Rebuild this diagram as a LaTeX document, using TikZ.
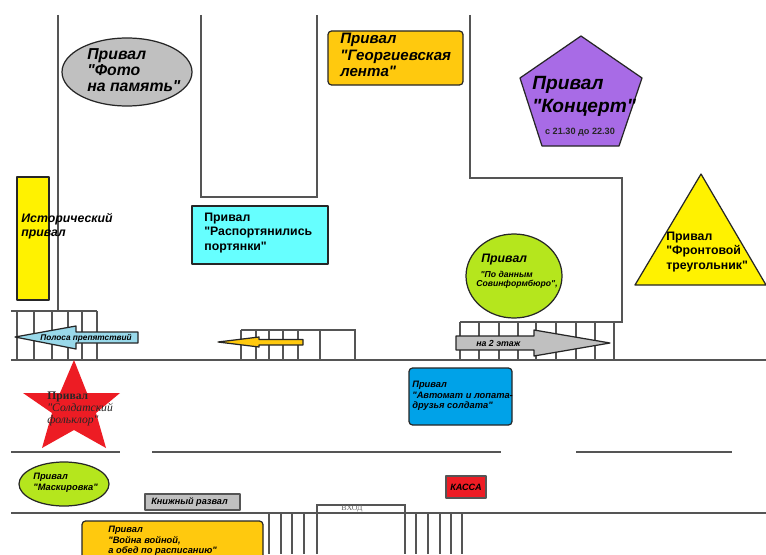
\documentclass[tikz,border=0pt]{standalone}
\usepackage{fontspec}
\setmainfont{Liberation Sans}[Ligatures=TeXOff]
\newfontfamily\serifrm{Liberation Serif}[Ligatures=TeXOff]
\definecolor{wallgray}{HTML}{555555}
\definecolor{boxgray}{HTML}{C0C0C0}
\definecolor{boxorange}{HTML}{FFC90E}
\definecolor{boxgreen}{HTML}{B5E61D}
\definecolor{boxyellow}{HTML}{FFF200}
\definecolor{boxcyan}{HTML}{66FFFF}
\definecolor{boxblue}{HTML}{00A2E8}
\definecolor{boxred}{HTML}{ED1C24}
\definecolor{boxpurple}{HTML}{A86BE6}
\definecolor{boxsky}{HTML}{99D9EA}
\tikzset{
  wall/.style={draw=wallgray,line width=0.8pt},
  outline/.style={draw=black!85,line width=0.7pt,line join=round},
  rbox/.style={outline,rounded corners=2pt},
  txt/.style={anchor=west,align=left,inner sep=0pt,font=\bfseries\itshape\color{black!85}},
}
\begin{document}
\begin{tikzpicture}[x=0.02cm,y=-0.02cm]
\clip (0,0) rectangle (766,554);
\fill[white] (0,0) rectangle (766,554);
\draw[wall] (58,15) -- (58,311);
\draw[wall] (201,15) -- (201,197) -- (317,197) -- (317,15);
\draw[wall] (470,15) -- (470,178) -- (622,178) -- (622,322) -- (460,322);
\draw[wall] (11,360) -- (766,360);
\draw[wall] (11,452) -- (120,452);
\draw[wall] (152,452) -- (501,452);
\draw[wall] (576,452) -- (732,452);
\draw[wall] (11,513) -- (766,513);
\draw[wall] (11,311) -- (97,311);
\draw[wall] (17,311) -- (17,360);
\draw[wall] (34,311) -- (34,360);
\draw[wall] (52,311) -- (52,360);
\draw[wall] (68,311) -- (68,360);
\draw[wall] (82,311) -- (82,360);
\draw[wall] (97,311) -- (97,360);
\draw[wall] (241,330) -- (355,330) -- (355,360);
\draw[wall] (241,330) -- (241,360);
\draw[wall] (256,330) -- (256,360);
\draw[wall] (269,330) -- (269,360);
\draw[wall] (283,330) -- (283,360);
\draw[wall] (298,330) -- (298,360);
\draw[wall] (320,330) -- (320,360);
\draw[wall] (460,322) -- (460,360);
\draw[wall] (479,322) -- (479,360);
\draw[wall] (499,322) -- (499,360);
\draw[wall] (518,322) -- (518,360);
\draw[wall] (536,322) -- (536,360);
\draw[wall] (556,322) -- (556,360);
\draw[wall] (576,322) -- (576,360);
\draw[wall] (595,322) -- (595,360);
\draw[wall] (614,322) -- (614,360);
\draw[wall] (317,554) -- (317,505) -- (405,505) -- (405,554);
\draw[wall] (269,513) -- (269,554);
\draw[wall] (281,513) -- (281,554);
\draw[wall] (292,513) -- (292,554);
\draw[wall] (304,513) -- (304,554);
\draw[wall] (416,513) -- (416,554);
\draw[wall] (428,513) -- (428,554);
\draw[wall] (440,513) -- (440,554);
\draw[wall] (451,513) -- (451,554);
\draw[wall] (462,513) -- (462,554);
\node[anchor=center,inner sep=0pt,font=\serifrm\fontsize{4.5}{5}\selectfont,text=black!60] (vhod) at (352,509) {ВХОД};

\filldraw[outline,fill=boxgray] (127,72) ellipse (65 and 34);
\node[txt,font=\bfseries\itshape\fontsize{9}{9.2}\selectfont] (foto) at (87,70) {Привал\\"Фото\\на память"};

\filldraw[rbox,fill=boxorange] (328,31) rectangle (463,85);
\node[txt,font=\bfseries\itshape\fontsize{8.6}{9.5}\selectfont] (lenta) at (340,55) {Привал\\"Георгиевская\\лента"};

\filldraw[outline,fill=boxpurple] (581,36) -- (642,78) -- (619,146) -- (542,146) -- (520,78) -- cycle;
\node[txt,font=\bfseries\itshape\fontsize{10.9}{13}\selectfont] (koncert) at (532,96) {Привал\\"Концерт"};
\node[anchor=center,inner sep=0pt,font=\bfseries\fontsize{5.2}{5.5}\selectfont,text=black!85] (vremya) at (580,132) {с 21.30 до 22.30};

\filldraw[outline,fill=boxyellow] (17,177) rectangle (49,300);
\node[txt,font=\bfseries\itshape\fontsize{7}{8}\selectfont] (istor) at (21,226) {Исторический\\привал};

\filldraw[outline,line width=0.9pt,fill=boxcyan] (192,206) rectangle (328,264);
\node[txt,font=\bfseries\fontsize{7}{8.4}\selectfont] (portyanki) at (204,233) {Привал\\"Распортянились\\портянки"};

\filldraw[outline,fill=boxyellow] (701,174) -- (766,285) -- (635,285) -- cycle;
\node[txt,font=\bfseries\fontsize{7}{8.3}\selectfont] (treug) at (666,252) {Привал\\"Фронтовой\\треугольник"};

\filldraw[outline,fill=boxgreen] (514,276) ellipse (48 and 42);
\node[txt,font=\bfseries\itshape\fontsize{7}{8}\selectfont] (privalsov) at (481,260) {Привал};
\node[txt,font=\bfseries\itshape\fontsize{4.9}{5.3}\selectfont] (sovinform) at (476,280) {\,\,\,"По данным\\Совинформбюро",};

\filldraw[outline,fill=boxsky] (15,337) -- (76,326) -- (76,332) -- (138,332) -- (138,343) -- (76,343) -- (76,349) -- cycle;
\node[txt,font=\bfseries\itshape\fontsize{4.7}{6}\selectfont] (polosa) at (40,338) {Полоса препятствий};

\filldraw[outline,fill=boxorange] (218,342) -- (259,337) -- (259,339.5) -- (303,339.5) -- (303,345) -- (259,345) -- (259,347) -- cycle;

\filldraw[outline,fill=boxgray] (456,336) -- (534,336) -- (534,330) -- (610,343) -- (534,356) -- (534,350) -- (456,350) -- cycle;
\node[txt,font=\bfseries\itshape\fontsize{5}{6}\selectfont] (etazh) at (476,343) {на 2 этаж};

\fill[boxred] (74,360) -- (87,393) -- (120,393) -- (96,413) -- (106,448) -- (74,430) -- (42,448) -- (52,413) -- (23,393) -- (60,393) -- cycle;
\node[anchor=west,align=left,inner sep=0pt,font=\serifrm\fontsize{6.6}{7}\selectfont\color{black!85}] (folklor) at (47,409) {\textbf{Привал}\\\textit{"Солдатский}\\\textit{фольклор"}};

\filldraw[rbox,fill=boxblue] (409,368) rectangle (512,425);
\node[txt,font=\bfseries\itshape\fontsize{5.3}{6}\selectfont] (avtomat) at (412,396) {Привал\\"Автомат и лопата-\\друзья солдата"};

\filldraw[outline,fill=boxgreen] (64,484) ellipse (45 and 22);
\node[txt,font=\bfseries\itshape\fontsize{5.3}{6.3}\selectfont] (maskirovka) at (33,483) {Привал\\"Маскировка"};

\filldraw[outline,draw=wallgray,fill=boxgray] (145,494) rectangle (240,510);
\node[txt,font=\bfseries\itshape\fontsize{5.2}{6}\selectfont] (kniga) at (151,502) {Книжный развал};

\filldraw[outline,draw=wallgray,fill=boxred] (446,476) rectangle (486,498);
\node[txt,font=\bfseries\itshape\fontsize{5.2}{6}\selectfont] (kassa) at (450,487) {КАССА};

\filldraw[rbox,fill=boxorange] (82,521) rectangle (263,570);
\node[txt,font=\bfseries\itshape\fontsize{5.3}{6}\selectfont] (voina) at (108,541) {Привал\\"Война войной,\\а обед по расписанию"};
\end{tikzpicture}
\end{document}
